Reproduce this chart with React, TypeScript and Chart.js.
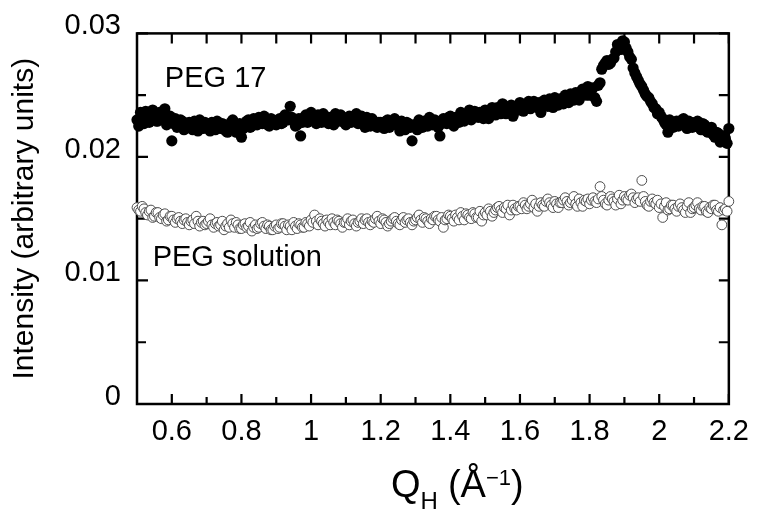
import React, { useEffect, useRef } from 'react';
import { Chart, registerables } from 'chart.js';

Chart.register(...registerables);

// Q_H sampling (Å^-1)
const qValues = [
  0.500, 0.505, 0.510, 0.515, 0.520, 0.525, 0.530, 0.535, 0.540, 0.545, 0.550, 0.555, 0.560, 0.565, 0.570, 0.575, 0.580, 0.585, 0.590, 0.595,
  0.600, 0.605, 0.610, 0.615, 0.620, 0.625, 0.630, 0.635, 0.640, 0.645, 0.650, 0.655, 0.660, 0.665, 0.670, 0.675, 0.680, 0.685, 0.690, 0.695,
  0.700, 0.705, 0.710, 0.715, 0.720, 0.725, 0.730, 0.735, 0.740, 0.745, 0.750, 0.755, 0.760, 0.765, 0.770, 0.775, 0.780, 0.785, 0.790, 0.795,
  0.800, 0.805, 0.810, 0.815, 0.820, 0.825, 0.830, 0.835, 0.840, 0.845, 0.850, 0.855, 0.860, 0.865, 0.870, 0.875, 0.880, 0.885, 0.890, 0.895,
  0.900, 0.905, 0.910, 0.915, 0.920, 0.925, 0.930, 0.935, 0.940, 0.945, 0.950, 0.955, 0.960, 0.965, 0.970, 0.975, 0.980, 0.985, 0.990, 0.995,
  1.000, 1.005, 1.010, 1.015, 1.020, 1.025, 1.030, 1.035, 1.040, 1.045, 1.050, 1.055, 1.060, 1.065, 1.070, 1.075, 1.080, 1.085, 1.090, 1.095,
  1.100, 1.105, 1.110, 1.115, 1.120, 1.125, 1.130, 1.135, 1.140, 1.145, 1.150, 1.155, 1.160, 1.165, 1.170, 1.175, 1.180, 1.185, 1.190, 1.195,
  1.200, 1.205, 1.210, 1.215, 1.220, 1.225, 1.230, 1.235, 1.240, 1.245, 1.250, 1.255, 1.260, 1.265, 1.270, 1.275, 1.280, 1.285, 1.290, 1.295,
  1.300, 1.305, 1.310, 1.315, 1.320, 1.325, 1.330, 1.335, 1.340, 1.345, 1.350, 1.355, 1.360, 1.365, 1.370, 1.375, 1.380, 1.385, 1.390, 1.395,
  1.400, 1.405, 1.410, 1.415, 1.420, 1.425, 1.430, 1.435, 1.440, 1.445, 1.450, 1.455, 1.460, 1.465, 1.470, 1.475, 1.480, 1.485, 1.490, 1.495,
  1.500, 1.505, 1.510, 1.515, 1.520, 1.525, 1.530, 1.535, 1.540, 1.545, 1.550, 1.555, 1.560, 1.565, 1.570, 1.575, 1.580, 1.585, 1.590, 1.595,
  1.600, 1.605, 1.610, 1.615, 1.620, 1.625, 1.630, 1.635, 1.640, 1.645, 1.650, 1.655, 1.660, 1.665, 1.670, 1.675, 1.680, 1.685, 1.690, 1.695,
  1.700, 1.705, 1.710, 1.715, 1.720, 1.725, 1.730, 1.735, 1.740, 1.745, 1.750, 1.755, 1.760, 1.765, 1.770, 1.775, 1.780, 1.785, 1.790, 1.795,
  1.800, 1.805, 1.810, 1.815, 1.820, 1.825, 1.830, 1.835, 1.840, 1.845, 1.850, 1.855, 1.860, 1.865, 1.870, 1.875, 1.880, 1.885, 1.890, 1.895,
  1.900, 1.905, 1.910, 1.915, 1.920, 1.925, 1.930, 1.935, 1.940, 1.945, 1.950, 1.955, 1.960, 1.965, 1.970, 1.975, 1.980, 1.985, 1.990, 1.995,
  2.000, 2.005, 2.010, 2.015, 2.020, 2.025, 2.030, 2.035, 2.040, 2.045, 2.050, 2.055, 2.060, 2.065, 2.070, 2.075, 2.080, 2.085, 2.090, 2.095,
  2.100, 2.105, 2.110, 2.115, 2.120, 2.125, 2.130, 2.135, 2.140, 2.145, 2.150, 2.155, 2.160, 2.165, 2.170, 2.175, 2.180, 2.185, 2.190, 2.195,
  2.200,
];

// PEG 17 (filled circles)
const peg17 = [
  0.0230, 0.0225, 0.0236, 0.0232, 0.0227, 0.0237, 0.0233, 0.0228, 0.0231, 0.0238, 0.0235, 0.0229, 0.0229, 0.0236, 0.0234, 0.0232, 0.0239, 0.0226, 0.0228, 0.0233,
  0.0213, 0.0227, 0.0231, 0.0224, 0.0226, 0.0230, 0.0229, 0.0222, 0.0224, 0.0227, 0.0228, 0.0225, 0.0222, 0.0229, 0.0226, 0.0221, 0.0230, 0.0227, 0.0223, 0.0228,
  0.0227, 0.0224, 0.0221, 0.0228, 0.0225, 0.0222, 0.0229, 0.0226, 0.0223, 0.0227, 0.0226, 0.0221, 0.0220, 0.0225, 0.0228, 0.0230, 0.0224, 0.0220, 0.0222, 0.0227,
  0.0216, 0.0223, 0.0226, 0.0229, 0.0230, 0.0224, 0.0225, 0.0231, 0.0228, 0.0226, 0.0232, 0.0228, 0.0227, 0.0233, 0.0229, 0.0226, 0.0225, 0.0231, 0.0230, 0.0227,
  0.0226, 0.0230, 0.0231, 0.0227, 0.0228, 0.0234, 0.0233, 0.0230, 0.0241, 0.0232, 0.0229, 0.0225, 0.0226, 0.0231, 0.0217, 0.0228, 0.0232, 0.0234, 0.0228, 0.0231,
  0.0236, 0.0233, 0.0230, 0.0227, 0.0234, 0.0231, 0.0228, 0.0235, 0.0233, 0.0229, 0.0227, 0.0232, 0.0231, 0.0226, 0.0235, 0.0232, 0.0229, 0.0234, 0.0232, 0.0228,
  0.0226, 0.0230, 0.0233, 0.0228, 0.0229, 0.0232, 0.0235, 0.0227, 0.0230, 0.0233, 0.0227, 0.0224, 0.0232, 0.0229, 0.0225, 0.0231, 0.0229, 0.0226, 0.0224, 0.0228,
  0.0228, 0.0225, 0.0223, 0.0229, 0.0230, 0.0224, 0.0226, 0.0228, 0.0231, 0.0227, 0.0225, 0.0221, 0.0229, 0.0226, 0.0222, 0.0228, 0.0227, 0.0224, 0.0213, 0.0226,
  0.0226, 0.0222, 0.0230, 0.0227, 0.0224, 0.0229, 0.0228, 0.0225, 0.0232, 0.0228, 0.0226, 0.0230, 0.0229, 0.0224, 0.0217, 0.0227, 0.0231, 0.0229, 0.0227, 0.0232,
  0.0233, 0.0229, 0.0225, 0.0232, 0.0231, 0.0228, 0.0236, 0.0233, 0.0229, 0.0231, 0.0234, 0.0238, 0.0230, 0.0233, 0.0237, 0.0234, 0.0232, 0.0236, 0.0235, 0.0231,
  0.0238, 0.0235, 0.0231, 0.0236, 0.0240, 0.0238, 0.0234, 0.0240, 0.0237, 0.0235, 0.0243, 0.0239, 0.0235, 0.0238, 0.0239, 0.0242, 0.0233, 0.0237, 0.0241, 0.0238,
  0.0244, 0.0240, 0.0237, 0.0241, 0.0242, 0.0245, 0.0239, 0.0243, 0.0245, 0.0241, 0.0240, 0.0244, 0.0236, 0.0242, 0.0246, 0.0243, 0.0241, 0.0247, 0.0244, 0.0240,
  0.0248, 0.0245, 0.0242, 0.0247, 0.0246, 0.0243, 0.0250, 0.0247, 0.0244, 0.0251, 0.0249, 0.0246, 0.0252, 0.0248, 0.0246, 0.0253, 0.0255, 0.0251, 0.0250, 0.0257,
  0.0250, 0.0254, 0.0256, 0.0248, 0.0245, 0.0258, 0.0260, 0.0271, 0.0274, 0.0276, 0.0278, 0.0275, 0.0276, 0.0279, 0.0280, 0.0285, 0.0291, 0.0289, 0.0287, 0.0294,
  0.0293, 0.0288, 0.0285, 0.0281, 0.0279, 0.0272, 0.0268, 0.0265, 0.0262, 0.0259, 0.0257, 0.0254, 0.0251, 0.0249, 0.0248, 0.0245, 0.0243, 0.0240, 0.0239, 0.0235,
  0.0236, 0.0233, 0.0231, 0.0228, 0.0226, 0.0220, 0.0230, 0.0227, 0.0224, 0.0228, 0.0229, 0.0225, 0.0226, 0.0230, 0.0231, 0.0227, 0.0223, 0.0229, 0.0228, 0.0224,
  0.0225, 0.0228, 0.0229, 0.0224, 0.0222, 0.0227, 0.0226, 0.0221, 0.0220, 0.0223, 0.0224, 0.0218, 0.0216, 0.0220, 0.0219, 0.0212, 0.0213, 0.0217, 0.0215, 0.0211,
  0.0223,
];

// PEG solution (open circles)
const pegSolution = [
  0.0159, 0.0157, 0.0156, 0.0160, 0.0158, 0.0155, 0.0153, 0.0156, 0.0157, 0.0151, 0.0152, 0.0155, 0.0155, 0.0151, 0.0150, 0.0153, 0.0154, 0.0148, 0.0149, 0.0152,
  0.0152, 0.0149, 0.0147, 0.0150, 0.0151, 0.0148, 0.0146, 0.0149, 0.0150, 0.0147, 0.0145, 0.0148, 0.0149, 0.0146, 0.0152, 0.0148, 0.0144, 0.0147, 0.0148, 0.0145,
  0.0146, 0.0148, 0.0150, 0.0145, 0.0143, 0.0146, 0.0147, 0.0144, 0.0145, 0.0148, 0.0141, 0.0144, 0.0146, 0.0143, 0.0149, 0.0146, 0.0143, 0.0147, 0.0145, 0.0142,
  0.0142, 0.0145, 0.0146, 0.0143, 0.0144, 0.0147, 0.0140, 0.0143, 0.0145, 0.0142, 0.0143, 0.0146, 0.0147, 0.0144, 0.0142, 0.0145, 0.0144, 0.0141, 0.0141, 0.0144,
  0.0145, 0.0142, 0.0143, 0.0146, 0.0146, 0.0144, 0.0141, 0.0145, 0.0144, 0.0141, 0.0147, 0.0144, 0.0142, 0.0146, 0.0145, 0.0143, 0.0143, 0.0147, 0.0146, 0.0144,
  0.0149, 0.0147, 0.0153, 0.0148, 0.0145, 0.0150, 0.0148, 0.0146, 0.0144, 0.0149, 0.0147, 0.0145, 0.0150, 0.0147, 0.0145, 0.0149, 0.0148, 0.0146, 0.0143, 0.0147,
  0.0147, 0.0150, 0.0145, 0.0148, 0.0149, 0.0146, 0.0144, 0.0147, 0.0148, 0.0150, 0.0146, 0.0149, 0.0150, 0.0147, 0.0145, 0.0148, 0.0147, 0.0150, 0.0152, 0.0148,
  0.0146, 0.0150, 0.0149, 0.0147, 0.0144, 0.0146, 0.0148, 0.0150, 0.0151, 0.0148, 0.0146, 0.0145, 0.0149, 0.0151, 0.0147, 0.0149, 0.0150, 0.0147, 0.0145, 0.0148,
  0.0149, 0.0151, 0.0153, 0.0149, 0.0147, 0.0151, 0.0150, 0.0148, 0.0146, 0.0150, 0.0149, 0.0152, 0.0152, 0.0149, 0.0148, 0.0151, 0.0143, 0.0149, 0.0150, 0.0153,
  0.0152, 0.0150, 0.0148, 0.0153, 0.0151, 0.0149, 0.0155, 0.0152, 0.0149, 0.0154, 0.0153, 0.0151, 0.0150, 0.0155, 0.0154, 0.0151, 0.0151, 0.0156, 0.0148, 0.0153,
  0.0155, 0.0153, 0.0158, 0.0156, 0.0152, 0.0155, 0.0157, 0.0159, 0.0160, 0.0157, 0.0155, 0.0159, 0.0158, 0.0161, 0.0153, 0.0157, 0.0161, 0.0158, 0.0157, 0.0160,
  0.0160, 0.0158, 0.0163, 0.0161, 0.0158, 0.0160, 0.0162, 0.0165, 0.0159, 0.0162, 0.0156, 0.0160, 0.0163, 0.0161, 0.0160, 0.0164, 0.0166, 0.0163, 0.0161, 0.0159,
  0.0164, 0.0162, 0.0159, 0.0163, 0.0163, 0.0165, 0.0167, 0.0164, 0.0161, 0.0163, 0.0165, 0.0168, 0.0162, 0.0160, 0.0166, 0.0163, 0.0160, 0.0165, 0.0164, 0.0166,
  0.0162, 0.0165, 0.0167, 0.0164, 0.0163, 0.0166, 0.0176, 0.0168, 0.0165, 0.0162, 0.0161, 0.0165, 0.0168, 0.0166, 0.0164, 0.0161, 0.0166, 0.0169, 0.0162, 0.0165,
  0.0168, 0.0166, 0.0165, 0.0169, 0.0170, 0.0167, 0.0163, 0.0166, 0.0167, 0.0164, 0.0181, 0.0168, 0.0164, 0.0161, 0.0160, 0.0164, 0.0166, 0.0163, 0.0162, 0.0165,
  0.0159, 0.0162, 0.0151, 0.0160, 0.0163, 0.0157, 0.0158, 0.0161, 0.0161, 0.0158, 0.0156, 0.0160, 0.0162, 0.0159, 0.0157, 0.0155, 0.0160, 0.0163, 0.0155, 0.0158,
  0.0159, 0.0161, 0.0163, 0.0158, 0.0157, 0.0160, 0.0160, 0.0156, 0.0155, 0.0159, 0.0158, 0.0161, 0.0161, 0.0157, 0.0156, 0.0159, 0.0145, 0.0157, 0.0158, 0.0156,
  0.0164,
];

const xMajorTicks = [0.6, 0.8, 1.0, 1.2, 1.4, 1.6, 1.8, 2.0, 2.2];
const xMinorTicks = [0.7, 0.9, 1.1, 1.3, 1.5, 1.7, 1.9, 2.1];
const yMajorTicks = [0, 0.01, 0.02, 0.03];
const yMinorTicks = [0.005, 0.015, 0.025];

const FONT = "'Liberation Sans', Arial, Helvetica, sans-serif";

const frameTicksPlugin = {
  id: 'frameTicks',
  beforeDatasetsDraw(chart: any) {
    const { ctx, chartArea, scales } = chart;
    const { left, right, top, bottom } = chartArea;
    const x = scales.x;
    const y = scales.y;
    ctx.save();
    ctx.strokeStyle = '#000';
    ctx.lineWidth = 2.2;
    ctx.beginPath();
    const xt = (v: number, lenB: number, lenT: number) => {
      const px = x.getPixelForValue(v);
      ctx.moveTo(px, bottom);
      ctx.lineTo(px, bottom - lenB);
      ctx.moveTo(px, top);
      ctx.lineTo(px, top + lenT);
    };
    const yt = (v: number, lenL: number, lenR: number) => {
      const py = y.getPixelForValue(v);
      ctx.moveTo(left, py);
      ctx.lineTo(left + lenL, py);
      ctx.moveTo(right, py);
      ctx.lineTo(right - lenR, py);
    };
    xMajorTicks.forEach((v) => xt(v, 10, 10));
    xMinorTicks.forEach((v) => xt(v, 7, 10));
    yMajorTicks.forEach((v) => yt(v, 11, 10));
    yMinorTicks.forEach((v) => yt(v, 9, 10));
    ctx.stroke();
    ctx.lineWidth = 2.5;
    ctx.strokeRect(left, top, right - left, bottom - top);
    ctx.restore();
  },
  afterDraw(chart: any) {
    const { ctx, scales } = chart;
    const x = scales.x;
    const y = scales.y;
    ctx.save();
    ctx.fillStyle = '#000';
    ctx.textBaseline = 'alphabetic';
    ctx.textAlign = 'left';
    ctx.font = `29px ${FONT}`;
    ctx.fillText('PEG 17', x.getPixelForValue(0.58), y.getPixelForValue(0.02569));
    ctx.fillText('PEG solution', x.getPixelForValue(0.545), y.getPixelForValue(0.01117));

    // x-axis title: Q_H (Å^-1)
    const base = 497;
    let cx = 391;
    ctx.font = `38px ${FONT}`;
    ctx.fillText('Q', cx, base);
    cx += ctx.measureText('Q').width;
    ctx.font = `24px ${FONT}`;
    ctx.fillText('H', cx, base + 12);
    cx += ctx.measureText('H').width + 10;
    ctx.font = `38px ${FONT}`;
    ctx.fillText('(Å', cx, base);
    cx += ctx.measureText('(Å').width;
    ctx.font = `22px ${FONT}`;
    ctx.fillText('\u22121', cx, base - 12);
    cx += ctx.measureText('\u22121').width;
    ctx.font = `38px ${FONT}`;
    ctx.fillText(')', cx, base);
    ctx.restore();
  },
};

const fmt = (v: number) => String(Number(v.toFixed(3)));

export default function App() {
  const ref = useRef<HTMLCanvasElement | null>(null);

  useEffect(() => {
    if (!ref.current) return;
    const chart = new Chart(ref.current, {
      type: 'scatter',
      data: {
        datasets: [
          {
            label: 'PEG 17',
            data: qValues.map((q, i) => ({ x: q, y: peg17[i] })),
            pointRadius: 5.6,
            pointBackgroundColor: '#000',
            pointBorderColor: '#000',
            pointBorderWidth: 0,
            clip: false,
          },
          {
            label: 'PEG solution',
            data: qValues.map((q, i) => ({ x: q, y: pegSolution[i] })),
            pointRadius: 4.9,
            pointBackgroundColor: '#fff',
            pointBorderColor: '#4d4d4d',
            pointBorderWidth: 1,
            clip: false,
          },
        ],
      },
      options: {
        responsive: false,
        animation: false,
        layout: { padding: { left: 0, top: 28, right: 27, bottom: 0 } },
        plugins: {
          legend: { display: false },
          tooltip: { enabled: false },
        },
        scales: {
          x: {
            type: 'linear',
            min: 0.5,
            max: 2.2,
            grid: { display: false, drawTicks: false },
            border: { display: false },
            ticks: {
              color: '#000',
              font: { family: FONT, size: 29 },
              padding: 11,
              maxRotation: 0,
              autoSkip: false,
              callback: (v: any) => fmt(Number(v)),
            },
            afterBuildTicks: (s: any) => {
              s.ticks = xMajorTicks.map((v) => ({ value: v }));
            },
            afterFit: (s: any) => {
              s.height = 105;
            },
          },
          y: {
            type: 'linear',
            min: 0,
            max: 0.03,
            grid: { display: false, drawTicks: false },
            border: { display: false },
            ticks: {
              color: '#000',
              font: { family: FONT, size: 29 },
              padding: 16,
              labelOffset: -7,
              autoSkip: false,
              callback: (v: any) => fmt(Number(v)),
            },
            afterBuildTicks: (s: any) => {
              s.ticks = yMajorTicks.map((v) => ({ value: v }));
            },
            afterFit: (s: any) => {
              s.width = 137;
            },
            title: {
              display: true,
              text: 'Intensity (arbitrary units)',
              color: '#000',
              font: { family: FONT, size: 30 },
              padding: { top: 7, bottom: 0 },
            },
          },
        },
      },
      plugins: [frameTicksPlugin],
    });
    return () => chart.destroy();
  }, []);

  return (
    <div style={{ position: 'fixed', left: 0, top: 0, width: 760, height: 509, background: '#fff' }}>
      <canvas ref={ref} width={760} height={509} style={{ width: 760, height: 509 }} />
    </div>
  );
}
